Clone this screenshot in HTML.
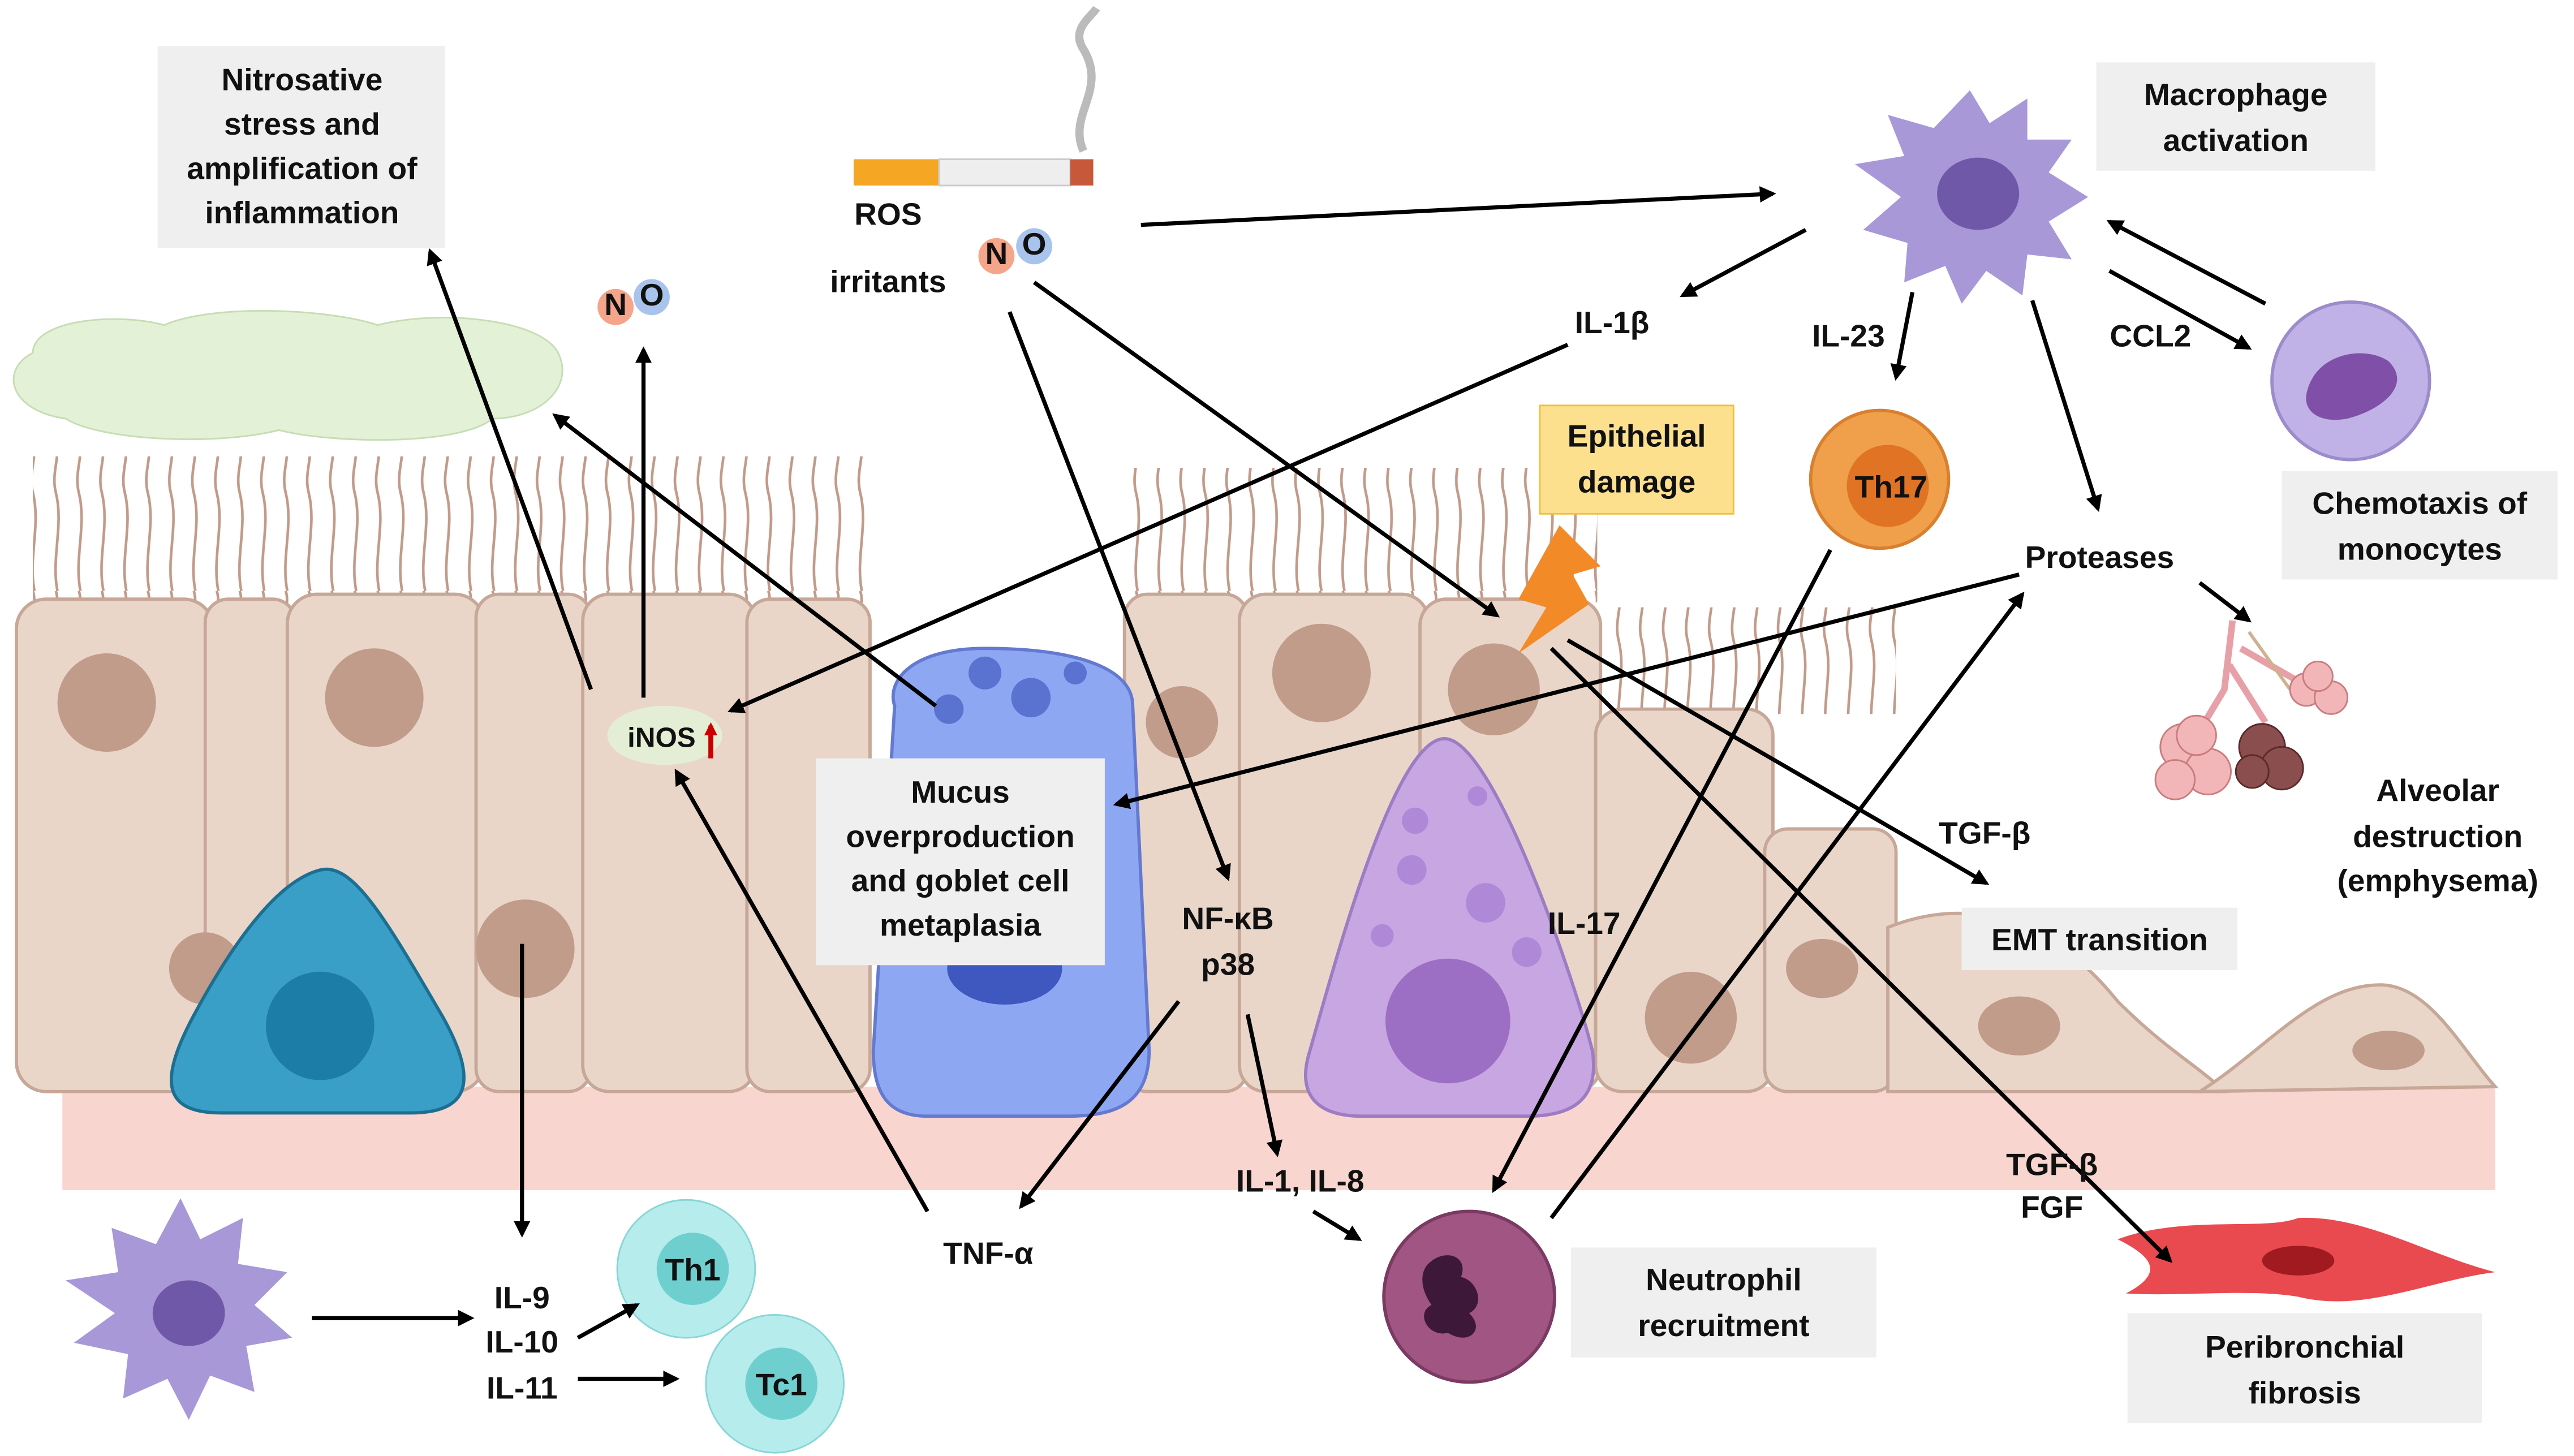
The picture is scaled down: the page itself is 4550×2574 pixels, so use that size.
<!DOCTYPE html>
<html><head><meta charset="utf-8"><style>
html,body{margin:0;padding:0;background:#fff;width:4550px;height:2574px;overflow:hidden}
svg{display:block}
text{font-family:"Liberation Sans",sans-serif;font-weight:bold;font-size:19px;fill:#111;text-anchor:middle}
</style></head><body>
<svg width="4550" height="2574" viewBox="0 0 1568 887" xmlns="http://www.w3.org/2000/svg">
<defs>
<marker id="a" markerWidth="10" markerHeight="10" refX="8" refY="5" orient="auto" markerUnits="userSpaceOnUse"><path d="M0,0 L10,5 L0,10 z" fill="#000"/></marker>
<marker id="r" markerWidth="8" markerHeight="8" refX="6" refY="4" orient="auto" markerUnits="userSpaceOnUse"><path d="M0,0 L8,4 L0,8 z" fill="#c00"/></marker>
<pattern id="cil" width="14" height="90" patternUnits="userSpaceOnUse"><path d="M7,90 C3,70 11,50 6,30 C3,18 9,8 6,0" stroke="#c29a8a" stroke-width="1.6" fill="none"/></pattern>
</defs>
<path d="M20,215 C20,195 70,190 100,198 C130,185 200,188 230,198 C270,188 330,195 340,215 C350,235 330,255 300,255 C280,272 200,270 170,262 C130,272 60,268 40,255 C5,250 0,225 20,215z" fill="#e3f1d6" stroke="#c6ddb4"/>
<rect x="20" y="278" width="510" height="90" fill="url(#cil)"/>
<rect x="688" y="285" width="285" height="82" fill="url(#cil)"/>
<rect x="980" y="370" width="175" height="65" fill="url(#cil)"/>
<rect x="38" y="662" width="1482" height="63" fill="#f9d5cf"/>
<g fill="#e9d6c9" stroke="#c7a797" stroke-width="2">
<rect x="10" y="365" width="120" height="300" rx="18"/>
<rect x="125" y="365" width="55" height="300" rx="14"/>
<rect x="175" y="362" width="120" height="303" rx="18"/>
<rect x="290" y="362" width="70" height="303" rx="14"/>
<rect x="355" y="362" width="105" height="303" rx="16"/>
<rect x="455" y="365" width="75" height="300" rx="14"/>
<rect x="685" y="362" width="75" height="303" rx="14"/>
<rect x="755" y="362" width="115" height="303" rx="16"/>
<rect x="865" y="365" width="110" height="300" rx="16"/>
<rect x="972" y="432" width="108" height="233" rx="16"/>
<rect x="1075" y="505" width="80" height="160" rx="14"/>
<path d="M1150,665 L1150,565 C1200,545 1250,560 1290,610 C1320,640 1340,650 1355,665 z"/>
<path d="M1340,665 C1380,640 1410,600 1450,600 C1480,600 1500,640 1520,662 z"/>
</g>
<g fill="#c19c8a">
<circle cx="65" cy="428" r="30"/><circle cx="228" cy="425" r="30"/><circle cx="320" cy="578" r="30"/>
<circle cx="720" cy="440" r="22"/><circle cx="805" cy="410" r="30"/><circle cx="910" cy="420" r="28"/>
<circle cx="1030" cy="620" r="28"/><ellipse cx="1110" cy="590" rx="22" ry="18"/><ellipse cx="1230" cy="625" rx="25" ry="18"/><ellipse cx="1455" cy="640" rx="22" ry="12"/>
<circle cx="125" cy="590" r="22"/>
</g>
<path d="M195,530 C215,525 235,560 270,620 C295,665 280,678 250,678 L135,678 C100,678 95,660 120,615 C150,560 175,535 195,530z" fill="#3a9fc6" stroke="#1d6f92" stroke-width="2"/>
<circle cx="195" cy="625" r="33" fill="#1c7ea7"/>
<path d="M545,430 C540,415 555,395 600,395 C650,395 690,405 690,430 L700,640 C700,672 680,680 650,680 L565,680 C540,680 532,665 532,640 z" fill="#8ea7f2" stroke="#6479d0" stroke-width="2"/>
<circle cx="600" cy="410" r="10" fill="#5a72d0"/><circle cx="628" cy="425" r="12" fill="#5a72d0"/><circle cx="655" cy="410" r="7" fill="#5a72d0"/><circle cx="578" cy="432" r="9" fill="#5a72d0"/>
<ellipse cx="612" cy="590" rx="35" ry="22" fill="#3f58c0"/>
<path d="M880,450 C910,450 960,600 970,640 C975,672 955,680 930,680 L830,680 C800,680 790,665 798,640 C815,580 850,450 880,450z" fill="#c7a6e2" stroke="#9d7cc4" stroke-width="2"/>
<circle cx="882" cy="622" r="38" fill="#9c6fc4"/>
<g fill="#b088d8"><circle cx="862" cy="500" r="8"/><circle cx="900" cy="485" r="6"/><circle cx="905" cy="550" r="12"/><circle cx="860" cy="530" r="9"/><circle cx="930" cy="580" r="9"/><circle cx="842" cy="570" r="7"/></g>
<path d="M1200,55 L1212,75 L1235,60 L1235,85 L1262,85 L1248,105 L1272,120 L1248,135 L1262,158 L1235,155 L1232,180 L1210,165 L1195,185 L1185,162 L1160,172 L1162,148 L1135,140 L1158,120 L1130,100 L1160,95 L1150,70 L1178,78 z" fill="#a898d8"/>
<ellipse cx="1205" cy="118" rx="25" ry="22" fill="#7058a8"/>
<circle cx="1432" cy="232" r="48" fill="#c0b2e6" stroke="#9d8ccc" stroke-width="2"/>
<path d="M1405,240 C1410,215 1440,210 1455,220 C1470,235 1450,250 1430,255 C1415,258 1403,252 1405,240z" fill="#8050a8"/>
<circle cx="1145" cy="292" r="42" fill="#f0a04a" stroke="#d88030" stroke-width="2"/><circle cx="1150" cy="296" r="25" fill="#e07424"/>
<rect x="938" y="247" width="118" height="66" fill="#fde08e" stroke="#f0c040"/>
<path d="M950,320 L975,345 L958,350 L968,368 L925,398 L942,370 L925,365 z" fill="#f28a28"/>
<!-- lungs -->
<path d="M1360,378 L1355,420 L1340,445 M1358,405 L1380,440 M1365,395 L1400,415" stroke="#e8a0a8" stroke-width="4" fill="none"/>
<path d="M1370,385 L1395,420" stroke="#d0b090" stroke-width="2" fill="none"/>
<g fill="#f2b6b8" stroke="#c97c80">
<circle cx="1330" cy="455" r="14"/><circle cx="1345" cy="470" r="14"/><circle cx="1325" cy="475" r="12"/><circle cx="1338" cy="448" r="12"/>
<circle cx="1405" cy="420" r="10"/><circle cx="1420" cy="425" r="10"/><circle cx="1412" cy="412" r="9"/>
</g>
<g fill="#8a4e4e" stroke="#5a2a2a"><circle cx="1378" cy="455" r="14"/><circle cx="1390" cy="468" r="13"/><circle cx="1372" cy="470" r="10"/></g>
<path d="M1290,755 C1330,740 1380,750 1400,742 C1440,740 1480,765 1520,775 C1480,780 1440,800 1400,790 C1370,785 1330,790 1295,788 C1320,775 1310,765 1290,755z" fill="#e94a50"/>
<ellipse cx="1400" cy="768" rx="22" ry="9" fill="#a01a20"/>
<circle cx="895" cy="790" r="52" fill="#a05582" stroke="#7a3a62" stroke-width="2"/>
<path d="M870,770 C880,760 895,765 890,778 C900,780 905,795 895,800 C905,810 895,820 882,812 C870,815 862,800 872,795 C865,785 865,775 870,770z" fill="#3e1838"/>
<path d="M110,730 L122,755 L148,742 L145,770 L175,775 L155,795 L178,815 L150,820 L155,848 L128,838 L115,865 L102,840 L75,852 L78,825 L45,818 L70,800 L40,780 L72,775 L68,748 L95,758 z" fill="#a898d8"/>
<ellipse cx="115" cy="800" rx="22" ry="20" fill="#7058a8"/>
<circle cx="418" cy="773" r="42" fill="#b7ecec" stroke="#88d6d6"/><circle cx="422" cy="773" r="22" fill="#6fcfcf"/>
<circle cx="472" cy="843" r="42" fill="#b7ecec" stroke="#88d6d6"/><circle cx="476" cy="843" r="22" fill="#6fcfcf"/>
<ellipse cx="405" cy="448" rx="35" ry="18" fill="#e4eed4"/>
<path d="M433,462 L433,442" stroke="#c00" stroke-width="3" marker-end="url(#r)"/>
<rect x="520" y="97" width="52" height="16" fill="#f5a623"/><rect x="572" y="97" width="80" height="16" fill="#eee" stroke="#ccc"/><rect x="652" y="97" width="14" height="16" fill="#c8583a"/>
<path d="M660,92 C650,70 675,55 660,30 C652,18 665,10 668,5" stroke="#bbb" stroke-width="5" fill="none"/>
<circle cx="375" cy="187" r="11" fill="#f4a58a"/><circle cx="397" cy="181" r="11" fill="#a8c4ec"/>
<circle cx="607" cy="156" r="11" fill="#f4a58a"/><circle cx="630" cy="150" r="11" fill="#a8c4ec"/>
<g style="font-size:14px"><text x="375" y="192">N</text><text x="397" y="186">O</text><text x="607" y="161">N</text><text x="630" y="155">O</text></g>
<g fill="#efefef">
<rect x="96" y="28" width="175" height="123"/><rect x="1277" y="38" width="170" height="66"/>
<rect x="1390" y="287" width="168" height="66"/><rect x="497" y="462" width="176" height="126"/>
<rect x="1195" y="553" width="168" height="38"/><rect x="957" y="760" width="186" height="67"/>
<rect x="1296" y="800" width="216" height="67"/>
</g>
<g stroke="#000" stroke-width="2.5" fill="none" marker-end="url(#a)">
<line x1="695" y1="137" x2="1080" y2="118"/>
<line x1="1100" y1="140" x2="1025" y2="180"/>
<line x1="1165" y1="178" x2="1155" y2="230"/>
<line x1="1238" y1="183" x2="1278" y2="310"/>
<line x1="1380" y1="185" x2="1285" y2="135"/>
<line x1="1285" y1="165" x2="1370" y2="212"/>
<line x1="955" y1="210" x2="445" y2="433"/>
<line x1="615" y1="190" x2="748" y2="535"/>
<line x1="630" y1="172" x2="912" y2="375"/>
<line x1="1230" y1="350" x2="680" y2="490"/>
<line x1="1340" y1="355" x2="1370" y2="378"/>
<line x1="955" y1="390" x2="1210" y2="538"/>
<line x1="945" y1="395" x2="1322" y2="768"/>
<line x1="1115" y1="335" x2="910" y2="725"/>
<line x1="945" y1="742" x2="1232" y2="362"/>
<line x1="760" y1="618" x2="778" y2="703"/>
<line x1="800" y1="738" x2="828" y2="755"/>
<line x1="718" y1="610" x2="622" y2="735"/>
<line x1="565" y1="738" x2="412" y2="470"/>
<line x1="392" y1="425" x2="392" y2="213"/>
<line x1="360" y1="420" x2="262" y2="153"/>
<line x1="570" y1="430" x2="338" y2="253"/>
<line x1="318" y1="575" x2="318" y2="752"/>
<line x1="190" y1="803" x2="287" y2="803"/>
<line x1="352" y1="815" x2="388" y2="795"/>
<line x1="352" y1="840" x2="412" y2="840"/>
</g>
<text x="184" y="55">Nitrosative</text><text x="184" y="82">stress and</text><text x="184" y="109">amplification of</text><text x="184" y="136">inflammation</text>
<text x="1362" y="64">Macrophage</text><text x="1362" y="92">activation</text>
<text x="1474" y="313">Chemotaxis of</text><text x="1474" y="341">monocytes</text>
<text x="585" y="489">Mucus</text><text x="585" y="516">overproduction</text><text x="585" y="543">and goblet cell</text><text x="585" y="570">metaplasia</text>
<text x="1279" y="579">EMT transition</text>
<text x="1050" y="786">Neutrophil</text><text x="1050" y="814">recruitment</text>
<text x="1404" y="827">Peribronchial</text><text x="1404" y="855">fibrosis</text>
<text x="997" y="272">Epithelial</text><text x="997" y="300">damage</text>
<text x="1485" y="488">Alveolar</text><text x="1485" y="516">destruction</text><text x="1485" y="543">(emphysema)</text>
<text x="541" y="137">ROS</text><text x="541" y="178">irritants</text>
<text x="982" y="203">IL-1β</text><text x="1126" y="211">IL-23</text><text x="1310" y="211">CCL2</text>
<text x="1152" y="303">Th17</text><text x="1279" y="346">Proteases</text>
<text x="1209" y="514">TGF-β</text><text x="965" y="569">IL-17</text>
<text x="748" y="566">NF-κB</text><text x="748" y="594">p38</text>
<text x="403" y="455" style="font-size:17px">iNOS</text>
<text x="792" y="726">IL-1, IL-8</text><text x="602" y="770">TNF-α</text>
<text x="1250" y="716">TGF-β</text><text x="1250" y="742">FGF</text>
<text x="318" y="797">IL-9</text><text x="318" y="824">IL-10</text><text x="318" y="852">IL-11</text>
<text x="422" y="780">Th1</text><text x="476" y="850">Tc1</text>
</svg>
</body></html>
